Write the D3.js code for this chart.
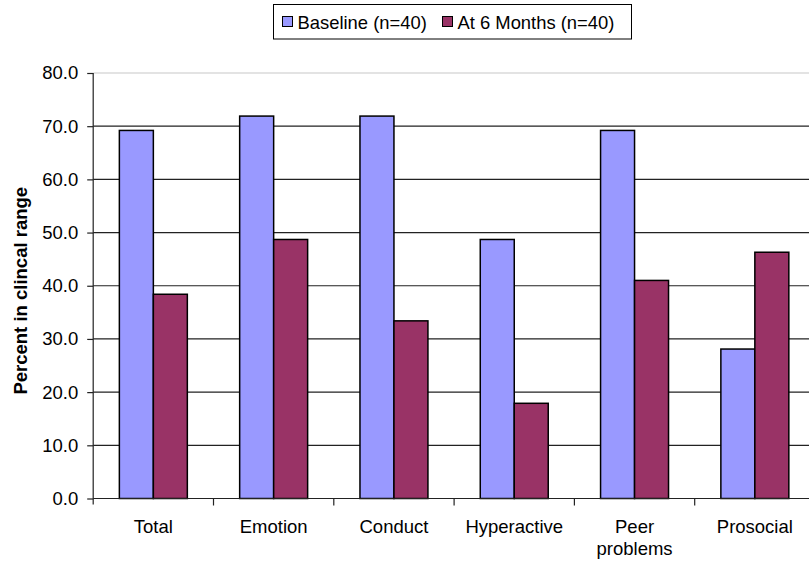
<!DOCTYPE html>
<html>
<head>
<meta charset="utf-8">
<script src="https://cdn.jsdelivr.net/npm/d3@7"></script>
<style>
  body { margin: 0; background: #fff; }
  svg text { font-family: Arial, "Liberation Sans", sans-serif; fill: #000; }
</style>
</head>
<body>
<div id="chart"></div>
<script>
// Chart data
const categories = ["Total", "Emotion", "Conduct", "Hyperactive", "Peer problems", "Prosocial"];
const seriesNames = ["Baseline (n=40)", "At 6 Months (n=40)"];
const baselineValues = [69.2, 71.9, 71.9, 48.7, 69.2, 28.1];
const sixMonthValues = [38.4, 48.7, 33.4, 17.9, 41.0, 46.3];
const yTicks = [0, 10, 20, 30, 40, 50, 60, 70, 80];

(function(){
  const width = 809, height = 564;
  const colors = ["#9999FF", "#993366"];

  const svg = d3.select("#chart").append("svg")
      .attr("width", width)
      .attr("height", height);

  const left = 93.2, top = 73, bottom = 498.5;
  const step = 120.3;

  const x0 = d3.scaleBand()
      .domain(categories)
      .range([left, left + step * categories.length])
      .padding(0);

  const bw = x0.bandwidth();
  const x1 = d3.scaleBand()
      .domain(seriesNames)
      .range([bw * 0.2175, bw * 0.7825])
      .padding(0);

  const y = d3.scaleLinear().domain([0, 80]).range([bottom, top]);

  // gridlines
  svg.append("g")
    .selectAll("line")
    .data(yTicks.filter(d => d > 0))
    .join("line")
      .attr("x1", left)
      .attr("x2", width)
      .attr("y1", d => y(d))
      .attr("y2", d => y(d))
      .attr("stroke", d => d === 80 ? "#c8c8c8" : "#222")
      .attr("stroke-width", 1.2);

  // bars
  const rows = categories.map((c, i) => ({ cat: c, vals: [baselineValues[i], sixMonthValues[i]] }));
  const groups = svg.append("g")
    .selectAll("g")
    .data(rows)
    .join("g")
      .attr("transform", d => `translate(${x0(d.cat)},0)`);

  groups.selectAll("rect")
    .data(d => d.vals.map((v, j) => ({ name: seriesNames[j], v, j })))
    .join("rect")
      .attr("x", d => x1(d.name))
      .attr("width", x1.bandwidth())
      .attr("y", d => y(d.v))
      .attr("height", d => y(0) - y(d.v))
      .attr("fill", d => colors[d.j])
      .attr("stroke", "#000")
      .attr("stroke-width", 1.5);

  // y axis
  const yAxis = d3.axisLeft(y)
      .tickValues(yTicks)
      .tickFormat(d3.format(".1f"))
      .tickSize(6)
      .tickPadding(9);
  const ya = svg.append("g")
      .attr("transform", `translate(${left},0)`)
      .call(yAxis);
  ya.select(".domain").attr("stroke", "#222").attr("stroke-width", 1.2)
      .attr("d", `M0,${top}V${bottom + 6}`);
  ya.selectAll(".tick line").attr("stroke", "#222").attr("stroke-width", 1.2);
  ya.selectAll(".tick text").attr("font-size", 18.5).attr("fill", "#000")
      .attr("font-family", "Arial, 'Liberation Sans', sans-serif");

  // x axis
  const xa = svg.append("g")
      .attr("transform", `translate(0,${bottom})`);
  xa.append("line")
      .attr("x1", left).attr("x2", width)
      .attr("stroke", "#222").attr("stroke-width", 1.2);
  xa.selectAll("line.tk")
    .data(categories)
    .join("line")
      .attr("class", "tk")
      .attr("x1", d => x0(d) + bw)
      .attr("x2", d => x0(d) + bw)
      .attr("y1", 0).attr("y2", 7)
      .attr("stroke", "#222").attr("stroke-width", 1.2);

  const labels = xa.selectAll("text")
    .data(categories)
    .join("text")
      .attr("x", d => x0(d) + bw / 2)
      .attr("y", 34.5)
      .attr("text-anchor", "middle")
      .attr("font-size", 18.5);
  labels.each(function(d) {
    const t = d3.select(this);
    const words = d === "Peer problems" ? ["Peer", "problems"] : [d];
    words.forEach((w, i) => {
      t.append("tspan")
        .attr("x", x0(d) + bw / 2)
        .attr("dy", i === 0 ? 0 : 22)
        .text(w);
    });
  });

  // y axis title
  svg.append("text")
      .attr("transform", `translate(27,${(top + bottom) / 2 + 5}) rotate(-90)`)
      .attr("text-anchor", "middle")
      .attr("font-size", 18.5)
      .attr("font-weight", "bold")
      .text("Percent in clincal range");

  // legend
  const legend = svg.append("g");
  legend.append("rect")
      .attr("x", 273.5).attr("y", 4.5)
      .attr("width", 358).attr("height", 34.5)
      .attr("fill", "#fff")
      .attr("stroke", "#000")
      .attr("stroke-width", 1);
  const legX = [282, 442];
  const items = legend.selectAll("g")
    .data(seriesNames)
    .join("g")
      .attr("transform", (d, i) => `translate(${legX[i]},0)`);
  items.append("rect")
      .attr("x", 0.5).attr("y", 16.5)
      .attr("width", 10).attr("height", 10)
      .attr("fill", (d, i) => colors[i])
      .attr("stroke", "#000")
      .attr("stroke-width", 1);
  items.append("text")
      .attr("x", 15.5)
      .attr("y", 28.5)
      .attr("font-size", 18.4)
      .text(d => d);
})();
</script>
</body>
</html>
